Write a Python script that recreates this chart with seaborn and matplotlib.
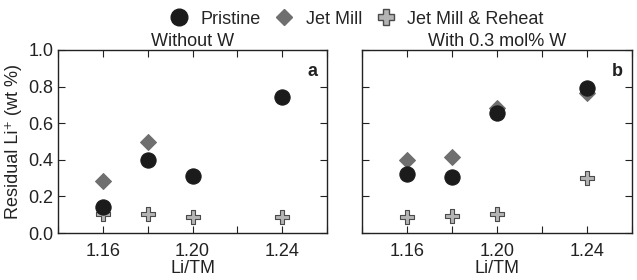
import numpy as np
import pandas as pd

import matplotlib
matplotlib.use("Agg")
import matplotlib.pyplot as plt
from matplotlib.ticker import MultipleLocator, FixedLocator, FormatStrFormatter
import seaborn as sns

sns.set_style("ticks")
plt.rcParams['font.family'] = ['Liberation Sans', 'DejaVu Sans']

li_tm = [1.16, 1.18, 1.20, 1.24]

# panel a: without W
pristine_a = [0.14, 0.40, 0.31, 0.745]
jetmill_a = [0.285, 0.495, np.nan, np.nan]
reheat_a = [0.105, 0.105, 0.085, 0.088]

# panel b: with 0.3 mol% W
pristine_b = [0.32, 0.305, 0.655, 0.79]
jetmill_b = [0.40, 0.415, 0.685, 0.765]
reheat_b = [0.09, 0.095, 0.105, 0.30]

series = ["Pristine", "Jet Mill", "Jet Mill & Reheat"]
titles = ["Without W", "With 0.3 mol% W"]
letters = ["a", "b"]

def long_df(pristine, jetmill, reheat):
    d = []
    for name, vals in zip(series, [pristine, jetmill, reheat]):
        d.append(pd.DataFrame({"Li/TM": li_tm, "res": vals, "kind": name}))
    return pd.concat(d, ignore_index=True).dropna()

palette = {"Pristine": "#1b1b1b", "Jet Mill": "#6f6f6f", "Jet Mill & Reheat": "#b4b4b4"}
markers = {"Pristine": "o", "Jet Mill": "D", "Jet Mill & Reheat": "P"}
sizes = {"Pristine": 120, "Jet Mill": 65, "Jet Mill & Reheat": 115}
edges = {"Pristine": "#1b1b1b", "Jet Mill": "#6f6f6f", "Jet Mill & Reheat": "#4a4a4a"}
draw_order = ["Jet Mill", "Jet Mill & Reheat", "Pristine"]
fs = 13
ink = "#222222"

fig = plt.figure(figsize=(6.37, 2.8), dpi=100)
ax1 = fig.add_axes([58/637, 47/280, 269/637, 183/280])
ax2 = fig.add_axes([362/637, 47/280, 270/637, 183/280])

datasets = [long_df(pristine_a, jetmill_a, reheat_a),
            long_df(pristine_b, jetmill_b, reheat_b)]

for ax, df, title, letter in zip([ax1, ax2], datasets, titles, letters):
    for kind in draw_order:
        sub = df[df["kind"] == kind]
        sns.scatterplot(data=sub, x="Li/TM", y="res", marker=markers[kind],
                        color=palette[kind], s=sizes[kind], edgecolor=edges[kind],
                        linewidth=0.8, ax=ax, legend=False, zorder=3)
    ax.set_xlim(1.14, 1.26)
    ax.set_ylim(0, 1.0)
    ax.xaxis.set_major_locator(FixedLocator([1.16, 1.20, 1.24]))
    ax.xaxis.set_minor_locator(FixedLocator([1.14, 1.18, 1.22, 1.26]))
    ax.yaxis.set_major_locator(MultipleLocator(0.2))
    ax.set_xticklabels(["1.16", "1.20", "1.24"])
    ax.tick_params(which="both", direction="in", top=True, right=True,
                   labelsize=fs, length=5, width=0.8, colors=ink)
    ax.tick_params(axis="x", pad=7)
    for sp in ax.spines.values():
        sp.set_linewidth(1.0)
        sp.set_color(ink)
    ax.set_xlabel("Li/TM", fontsize=fs, labelpad=0, color=ink)
    ax.set_title(title, fontsize=fs, pad=2, color=ink)
    ax.text(0.965, 0.93, letter, transform=ax.transAxes, ha="right", va="top",
            fontsize=fs, fontweight="bold", color=ink)

ax1.set_ylabel("Residual Li\u207a (wt %)", fontsize=fs, color=ink, labelpad=4)
ax1.yaxis.set_major_formatter(FormatStrFormatter("%.1f"))
ax2.set_ylabel("")
ax2.set_yticklabels([])

handles = [plt.Line2D([], [], linestyle="none", marker=markers[k],
                      markersize=12 if k != "Jet Mill" else 8.5,
                      markerfacecolor=palette[k], markeredgecolor=edges[k]) for k in series]
fig.legend(handles, series, loc="upper center", bbox_to_anchor=(0.557, 1.02), ncol=3,
           frameon=False, fontsize=fs, handlelength=1.4, handletextpad=0.5,
           columnspacing=0.6)

fig.savefig("out.png", dpi=100)
